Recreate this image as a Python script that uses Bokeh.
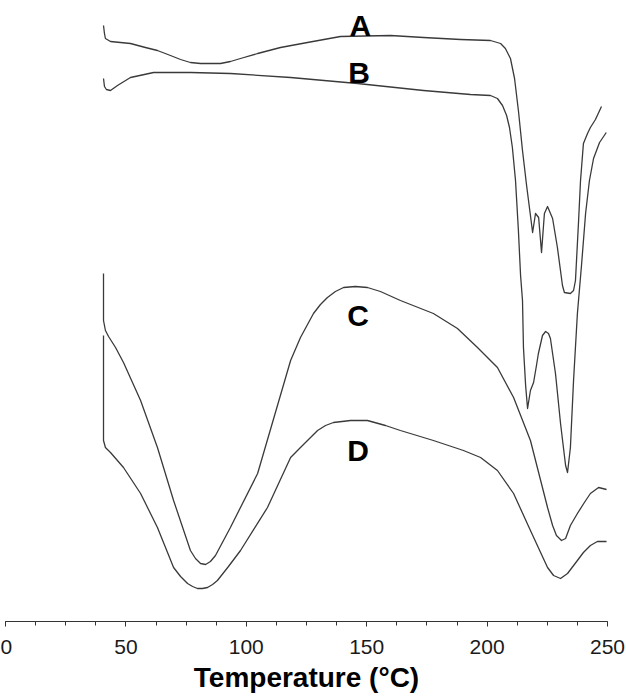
from bokeh.plotting import figure
from bokeh.models import Range1d, FixedTicker
from bokeh.core.properties import value
from bokeh.embed import file_html
from bokeh.resources import INLINE

# Temperature (°C) and heat flow (arbitrary units, offset curves)
temp_A = [40.7, 41.1, 41.5, 43.6, 51.9, 58.1, 63.1, 68.5, 72.7, 76.8, 81.0, 89.3, 93.4, 97.6,
          104.7, 114.2, 125.4, 139.1, 159.9, 173.6, 189.0, 201.4, 205.6, 207.6, 209.7, 211.4,
          213.0, 214.7, 216.4, 218.0, 218.9, 220.1, 221.4, 222.6, 223.8, 225.1, 227.2, 229.2,
          231.3, 232.1, 234.6, 235.9, 236.7, 238.0, 238.8, 240.0, 241.7, 242.9, 245.0, 247.5]
flow_A = [59.6, 58.8, 58.3, 58.0, 57.8, 57.4, 57.1, 56.6, 56.2, 55.9, 55.8, 55.8, 56.0, 56.3,
          56.8, 57.4, 57.9, 58.5, 58.6, 58.4, 58.2, 58.1, 57.8, 57.3, 56.3, 54.3,
          51.1, 47.1, 43.6, 40.6, 38.9, 40.8, 40.4, 36.9, 40.8, 41.5, 40.3, 37.4,
          33.6, 32.9, 32.8, 33.1, 34.1, 40.1, 44.1, 47.8, 48.8, 49.4, 50.2, 51.5]

temp_B = [40.7, 41.1, 41.9, 43.6, 46.5, 51.9, 61.5, 76.8, 93.4, 118.4, 146.2, 173.6, 193.1,
          201.4, 204.3, 206.4, 208.1, 209.3, 210.5, 211.8, 213.0, 213.9, 214.7, 215.1, 216.0,
          216.8, 218.0, 219.3, 220.5, 221.3, 223.0, 224.3, 225.5, 226.3, 228.4, 230.5, 232.6,
          233.4, 234.6, 235.9, 237.5, 239.2, 240.9, 242.5, 244.2, 246.7, 249.5]
flow_B = [54.3, 53.5, 53.2, 53.1, 53.6, 54.4, 54.9, 54.9, 54.8, 54.4, 53.8, 53.1, 52.7,
          52.6, 52.3, 51.6, 50.6, 49.4, 47.4, 44.1, 39.1, 34.6, 32.1, 27.4, 23.6,
          21.3, 23.1, 23.9, 25.6, 26.8, 28.6, 29.0, 28.8, 28.3, 24.8, 19.8, 15.6,
          14.9, 17.4, 24.1, 30.8, 35.6, 40.8, 44.1, 46.3, 47.9, 48.9]

temp_C = [40.7, 40.7, 41.5, 42.8, 45.7, 49.0, 56.1, 63.1, 69.8, 76.8, 78.9, 81.0, 83.1, 85.1,
          87.2, 93.4, 104.7, 118.4, 122.5, 127.9, 130.8, 133.7, 137.0, 140.4, 145.3, 150.3,
          155.7, 164.0, 177.7, 187.7, 196.0, 204.3, 211.0, 218.0, 225.1, 227.2, 228.8, 230.9,
          232.6, 234.6, 237.5, 240.4, 242.9, 246.3, 249.6]
flow_C = [34.8, 30.1, 29.1, 28.5, 27.4, 25.9, 22.1, 17.4, 12.1, 7.1, 6.3, 5.8, 5.7, 6.0,
          6.6, 9.4, 14.8, 26.1, 28.4, 30.8, 31.7, 32.4, 33.0, 33.4, 33.5, 33.4,
          33.0, 32.1, 30.8, 29.3, 27.4, 25.4, 22.4, 18.1, 11.4, 9.6, 8.6, 8.1,
          8.3, 9.6, 10.8, 11.9, 12.8, 13.4, 13.2]

temp_D = [40.7, 40.7, 41.5, 43.6, 49.0, 56.1, 63.1, 69.8, 72.7, 75.6, 77.7, 79.7, 81.8, 83.9,
          86.0, 88.0, 92.6, 97.6, 108.8, 118.4, 122.5, 129.6, 132.9, 136.2, 143.3, 150.3,
          157.8, 164.0, 177.7, 190.2, 197.3, 204.3, 211.0, 218.0, 225.1, 227.6, 230.5, 233.4,
          237.5, 240.0, 242.9, 245.8, 249.6]
flow_D = [28.6, 18.1, 17.4, 16.9, 15.4, 12.8, 9.4, 5.4, 4.5, 3.8, 3.5, 3.3, 3.3, 3.4,
          3.7, 4.1, 5.5, 7.1, 11.4, 16.4, 17.4, 19.1, 19.6, 19.9, 20.1, 20.1,
          19.6, 19.1, 18.1, 17.1, 16.4, 15.1, 12.8, 9.1, 5.4, 4.6, 4.3, 4.8,
          6.1, 6.9, 7.6, 8.0, 8.0]

curve_names = ["A", "B", "C", "D"]
label_temp = [147.4, 146.8, 146.4, 146.4]
label_flow = [59.6, 54.9, 30.6, 17.1]

major_ticks = [0, 50, 100, 150, 200, 250]
minor_ticks = [12.5 * i for i in range(21)]

p = figure(width=626, height=696, output_backend="svg", toolbar_location=None,
           x_range=Range1d(0, 250), y_range=Range1d(0, 62.1),
           min_border_left=5, min_border_right=19, min_border_top=0, min_border_bottom=75,
           y_axis_location=None)
p.outline_line_color = None
p.xgrid.visible = False
p.ygrid.visible = False
p.background_fill_color = "white"
p.border_fill_color = "white"

for tx, fy in [(temp_A, flow_A), (temp_B, flow_B), (temp_C, flow_C), (temp_D, flow_D)]:
    p.line(tx, fy, line_color="#3a3a3a", line_width=1.3, line_join="round")

p.text(x=label_temp, y=label_flow, text=curve_names, text_font=value("Liberation Sans"),
       text_font_style="bold", text_font_size="30px", text_align="center",
       text_baseline="alphabetic", text_color="black")

ax = p.xaxis[0]
ax.ticker = FixedTicker(ticks=major_ticks, minor_ticks=minor_ticks)
ax.axis_line_color = "#333333"
ax.axis_line_width = 1.2
ax.major_tick_line_color = "#333333"
ax.minor_tick_line_color = "#333333"
ax.major_tick_in = 0
ax.major_tick_out = 5
ax.minor_tick_in = 0
ax.minor_tick_out = 4
ax.major_label_text_font = "Liberation Sans"
ax.major_label_text_font_size = "21px"
ax.major_label_text_color = "#1a1a1a"
ax.major_label_standoff = 13
ax.axis_label = "Temperature (°C)"
ax.axis_label_text_font = "Liberation Sans"
ax.axis_label_text_font_style = "bold"
ax.axis_label_text_font_size = "28px"
ax.axis_label_text_color = "black"
ax.axis_label_standoff = 5

open("out.html", "w").write(file_html(p, INLINE))
